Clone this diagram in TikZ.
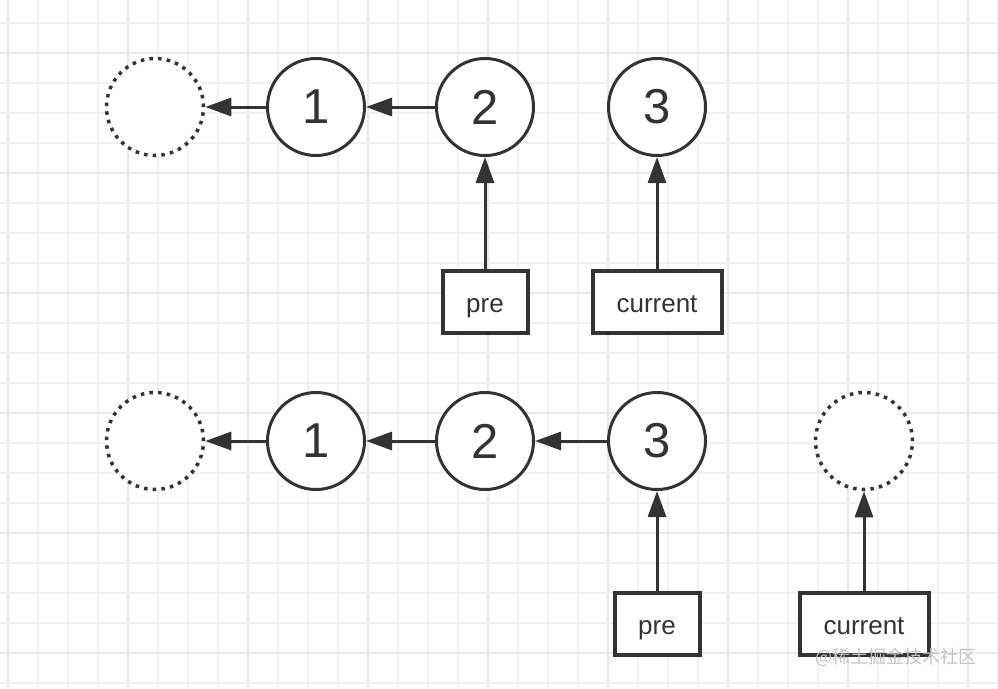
\documentclass[tikz,border=0pt]{standalone}
\usepackage{fontspec}
\setmainfont{Liberation Sans}
\newfontfamily\cjk{Noto Sans CJK SC}
\usetikzlibrary{arrows.meta}

\definecolor{ink}{HTML}{333333}
\definecolor{gridminor}{HTML}{F1F1F1}
\definecolor{gridmajor}{HTML}{E8E8E8}
\definecolor{markgray}{HTML}{C4C4C4}

\tikzset{
  listnode/.style={circle, draw=ink, line width=3pt, minimum size=97pt,
    inner sep=0pt, fill=white, text=ink, font=\fontsize{49}{49}\selectfont},
  nullnode/.style={listnode, line width=3.5pt, dash pattern=on 3.5pt off 5.2pt},
  ptrbox/.style={rectangle, draw=ink, line width=4pt, minimum height=62pt,
    inner sep=0pt, fill=white, text=ink, text height=21pt, text depth=0pt,
    font=\fontsize{26}{26}\selectfont},
  link/.style={draw=ink, line width=3pt, -{Triangle[length=26pt,width=18pt]}}
}

\begin{document}
\begin{tikzpicture}[x=1pt, y=-1pt]
  \useasboundingbox (0,0) rectangle (998,688);
  \fill[white] (0,0) rectangle (998,688);
  % grid paper
  \foreach \k in {0,...,33} {
    \pgfmathsetmacro{\gx}{8+30*\k}
    \pgfmathtruncatemacro{\m}{mod(\k,4)}
    \ifnum\m=0
      \draw[gridmajor, line width=1.8pt] (\gx,0) -- (\gx,688);
    \else
      \draw[gridminor, line width=1.5pt] (\gx,0) -- (\gx,688);
    \fi
  }
  \foreach \k in {0,...,22} {
    \pgfmathsetmacro{\gy}{23+30*\k}
    \pgfmathtruncatemacro{\m}{mod(\k,4)}
    \ifnum\m=1
      \draw[gridmajor, line width=1.8pt] (0,\gy) -- (998,\gy);
    \else
      \draw[gridminor, line width=1.5pt] (0,\gy) -- (998,\gy);
    \fi
  }

  % before: pre on 2, current on 3
  \node[nullnode] (null1) at (155,107) {};
  \node[listnode] (one1) at (316,107) {1};
  \node[listnode] (two1) at (485,107) {2};
  \node[listnode] (three1) at (657,107) {3};
  \node[ptrbox, minimum width=85pt] (pre1) at (485,301.5) {pre};
  \node[ptrbox, minimum width=129pt] (cur1) at (657,301.5) {current};

  \draw[link] (one1) -- (null1);
  \draw[link] (two1) -- (one1);
  \draw[link] (pre1) -- (two1);
  \draw[link] (cur1) -- (three1);

  % after: pre on 3, current on null
  \node[nullnode] (null2) at (155,441) {};
  \node[listnode] (one2) at (316,441) {1};
  \node[listnode] (two2) at (485,441) {2};
  \node[listnode] (three2) at (657,441) {3};
  \node[nullnode] (null3) at (864,441) {};
  \node[ptrbox, minimum width=85pt] (pre2) at (657,624) {pre};
  \node[ptrbox, minimum width=129pt] (cur2) at (864,624) {current};

  \draw[link] (one2) -- (null2);
  \draw[link] (two2) -- (one2);
  \draw[link] (three2) -- (two2);
  \draw[link] (pre2) -- (three2);
  \draw[link] (cur2) -- (null3);

  \node[text=markgray, font=\cjk\fontsize{18}{18}\selectfont] (mark) at (896,657) {@稀土掘金技术社区};
\end{tikzpicture}
\end{document}
